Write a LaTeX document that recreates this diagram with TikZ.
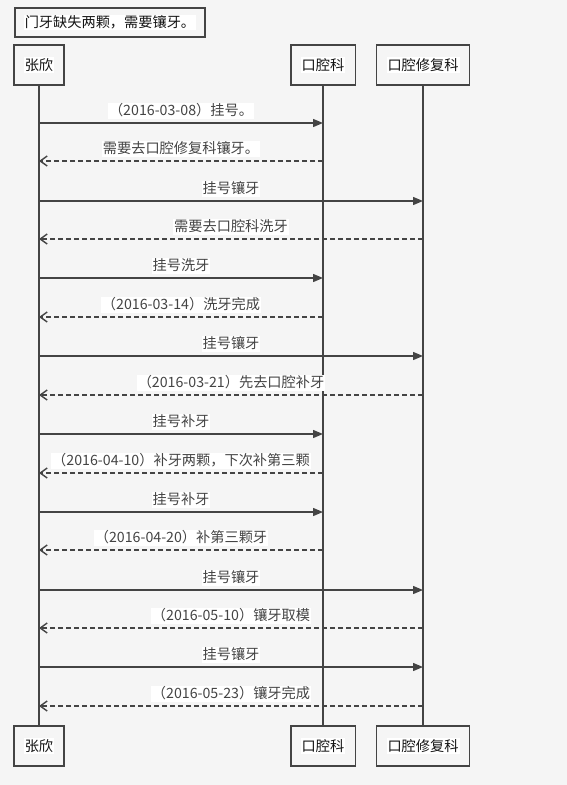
\documentclass[tikz,border=0pt]{standalone}
\usepackage{fontspec}
\setmainfont{Noto Sans CJK SC}
\usepackage{xcolor}
\definecolor{seqline}{RGB}{68,68,68}
\definecolor{seqbg}{RGB}{245,245,245}
\usetikzlibrary{arrows.meta,positioning}
\newcommand{\hl}[1]{{\setlength{\fboxsep}{1pt}\colorbox{white}{#1}}}

\begin{document}
\begin{tikzpicture}[x=1pt, y=-1pt, font=\fontsize{14.2pt}{17pt}\selectfont, text=black!92,
    actor/.style={rectangle, draw=seqline, line width=1.6pt, minimum height=40pt, inner xsep=10pt},
    life/.style={seqline, line width=1.6pt},
    call/.style={-{Triangle[length=10pt,width=8pt]}, seqline, line width=1.4pt},
    reply/.style={-{Straight Barb[length=7pt,width=10pt]}, seqline, line width=1.4pt, dash pattern=on 5pt off 3pt},
    msg/.style={fill=white, inner sep=1pt, text height=11pt, text depth=3pt, above=3pt}]
    \fill[seqbg] (0,0) rectangle (567,785);

    \node[actor, minimum height=29pt, inner xsep=9pt, anchor=north west] (note) at (14,7) {\hl{门牙缺失两颗，需要镶牙。}};

    \node[actor] (zx) at (39,65) {\hl{张欣}};
    \node[actor] (kq) at (323,65) {\hl{口腔科}};
    \node[actor] (xf) at (423,65) {\hl{口腔修复科}};
    \node[actor] (zxb) at (39,746) {\hl{张欣}};
    \node[actor] (kqb) at (323,746) {\hl{口腔科}};
    \node[actor] (xfb) at (423,746) {\hl{口腔修复科}};

    \draw[life] (zx) -- (zxb);
    \draw[life] (kq) -- (kqb);
    \draw[life] (xf) -- (xfb);

    \draw[call] (zx |- 0,123) -- node[msg] {（2016-03-08）挂号。} (kq |- 0,123);
    \draw[reply] (kq |- 0,161) -- node[msg] {需要去口腔修复科镶牙。} (zx |- 0,161);
    \draw[call] (zx |- 0,201) -- node[msg] {挂号镶牙} (xf |- 0,201);
    \draw[reply] (xf |- 0,239) -- node[msg] {需要去口腔科洗牙} (zx |- 0,239);
    \draw[call] (zx |- 0,278) -- node[msg] {挂号洗牙} (kq |- 0,278);
    \draw[reply] (kq |- 0,317) -- node[msg] {（2016-03-14）洗牙完成} (zx |- 0,317);
    \draw[call] (zx |- 0,356) -- node[msg] {挂号镶牙} (xf |- 0,356);
    \draw[reply] (xf |- 0,395) -- node[msg] {（2016-03-21）先去口腔补牙} (zx |- 0,395);
    \draw[call] (zx |- 0,434) -- node[msg] {挂号补牙} (kq |- 0,434);
    \draw[reply] (kq |- 0,473) -- node[msg] {（2016-04-10）补牙两颗，下次补第三颗} (zx |- 0,473);
    \draw[call] (zx |- 0,512) -- node[msg] {挂号补牙} (kq |- 0,512);
    \draw[reply] (kq |- 0,550) -- node[msg] {（2016-04-20）补第三颗牙} (zx |- 0,550);
    \draw[call] (zx |- 0,590) -- node[msg] {挂号镶牙} (xf |- 0,590);
    \draw[reply] (xf |- 0,628) -- node[msg] {（2016-05-10）镶牙取模} (zx |- 0,628);
    \draw[call] (zx |- 0,667) -- node[msg] {挂号镶牙} (xf |- 0,667);
    \draw[reply] (xf |- 0,706) -- node[msg] {（2016-05-23）镶牙完成} (zx |- 0,706);
\end{tikzpicture}
\end{document}
